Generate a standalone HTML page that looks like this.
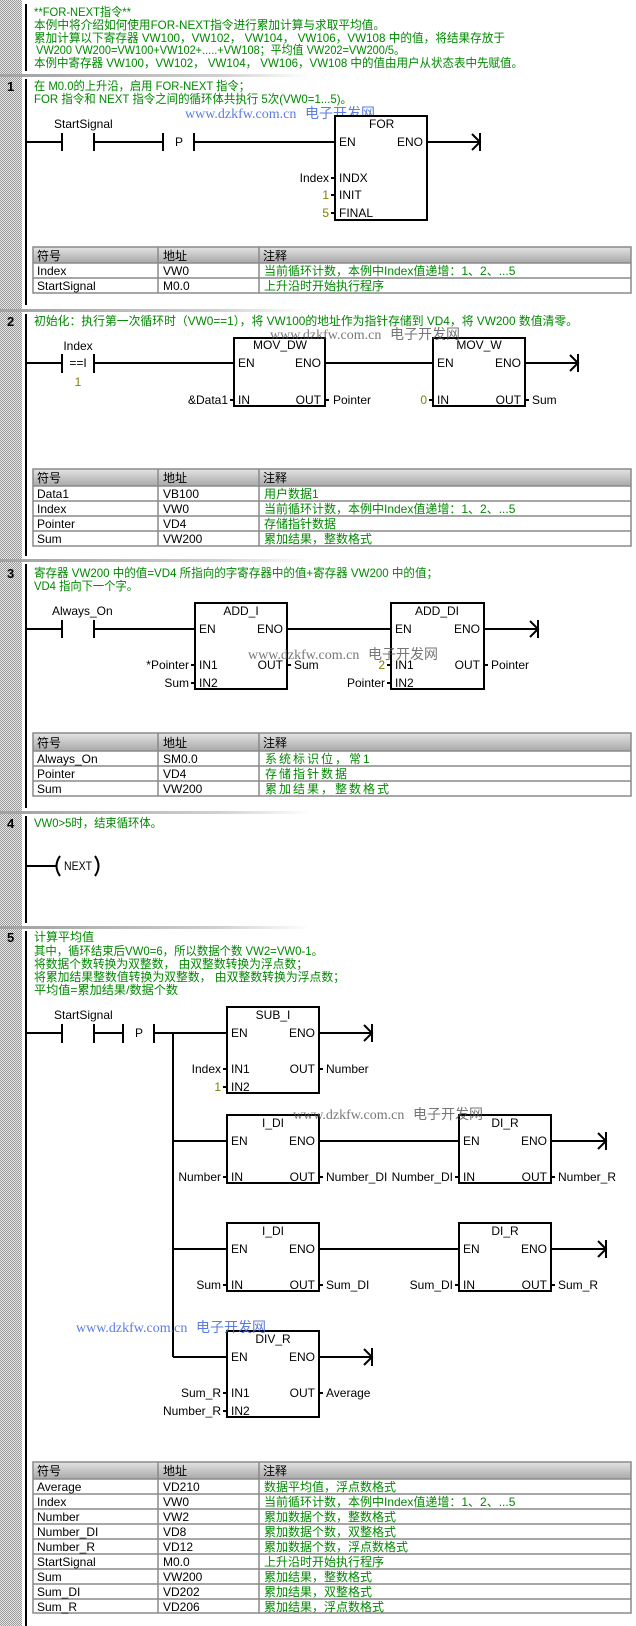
<!DOCTYPE html>
<html><head><meta charset="utf-8"><style>
html,body{margin:0;padding:0;background:#fff}
svg{display:block}
text{font-family:"Liberation Sans","Noto Sans CJK SC",sans-serif;font-size:12px;fill:#000}
.g{fill:#008800}
.o{fill:#808000}
.n{font-weight:bold;font-size:13px}
.wb{fill:#4a6ee0;font-family:"Liberation Serif","Noto Sans CJK SC",serif;font-size:14px;opacity:.9}
.wg{fill:#555;font-family:"Liberation Serif","Noto Sans CJK SC",serif;font-size:14px;opacity:.8}
.l{stroke:#000;stroke-width:2;fill:none}
.b{stroke:#000;stroke-width:2;fill:#fff}
.tb{stroke:#8a8a8a;stroke-width:1.5;fill:none}
</style></head><body>
<svg width="636" height="1626" viewBox="0 0 636 1626" xmlns="http://www.w3.org/2000/svg">
<defs>
<pattern id="chk" width="2" height="2" patternUnits="userSpaceOnUse"><rect width="2" height="2" fill="#e6e6e6"/><rect width="1" height="1" fill="#9a9a9a"/><rect x="1" y="1" width="1" height="1" fill="#9a9a9a"/></pattern>
<linearGradient id="sep" x1="0" x2="1" y1="0" y2="0"><stop offset="0" stop-color="#a0a0a0"/><stop offset="0.7" stop-color="#d0d0d0"/><stop offset="1" stop-color="#fff"/></linearGradient>
<linearGradient id="hd" x1="0" x2="0" y1="0" y2="1"><stop offset="0" stop-color="#e4e4e4"/><stop offset="1" stop-color="#a8a8a8"/></linearGradient>
</defs>
<rect x="0" y="0" width="22" height="1626" fill="url(#chk)"/>
<!-- separators -->
<rect x="0" y="74" width="310" height="3" fill="url(#sep)"/>
<rect x="0" y="309" width="310" height="3" fill="url(#sep)"/>
<rect x="0" y="559" width="310" height="3" fill="url(#sep)"/>
<rect x="0" y="811" width="310" height="3" fill="url(#sep)"/>
<rect x="0" y="926" width="310" height="3" fill="url(#sep)"/>
<!-- left rails -->
<g stroke="#000" stroke-width="2">
<line x1="26" y1="4" x2="26" y2="71"/>
<line x1="26" y1="79" x2="26" y2="305"/>
<line x1="26" y1="314" x2="26" y2="556"/>
<line x1="26" y1="564" x2="26" y2="808"/>
<line x1="26" y1="816" x2="26" y2="923"/>
<line x1="26" y1="931" x2="26" y2="1626"/>
</g>
<!-- header -->
<text class="g" x="34" y="16" textLength="97" lengthAdjust="spacingAndGlyphs">**FOR-NEXT指令**</text>
<text class="g" x="34" y="29" textLength="351" lengthAdjust="spacingAndGlyphs">本例中将介绍如何使用FOR-NEXT指令进行累加计算与求取平均值。</text>
<text class="g" x="34" y="42" textLength="471" lengthAdjust="spacingAndGlyphs">累加计算以下寄存器 VW100，VW102， VW104， VW106，VW108 中的值，将结果存放于</text>
<text class="g" x="36" y="54" textLength="369" lengthAdjust="spacingAndGlyphs">VW200 VW200=VW100+VW102+.....+VW108；平均值 VW202=VW200/5。</text>
<text class="g" x="34" y="67" textLength="489" lengthAdjust="spacingAndGlyphs">本例中寄存器 VW100，VW102， VW104， VW106，VW108 中的值由用户从状态表中先赋值。</text>

<!-- RUNG 1 -->
<text class="n" x="7" y="91">1</text>
<text class="g" x="34" y="90" textLength="216" lengthAdjust="spacingAndGlyphs">在 M0.0的上升沿，启用 FOR-NEXT 指令；</text>
<text class="g" x="34" y="103" textLength="318" lengthAdjust="spacingAndGlyphs">FOR 指令和 NEXT 指令之间的循环体共执行 5次(VW0=1...5)。</text>
<text class="wb" x="185" y="118">www.dzkfw.com.cn</text><text class="wb" x="305" y="118">电子开发网</text>
<text x="54" y="128">StartSignal</text>
<path class="l" d="M26 142H62M62 133V151M94 133V151M94 142H163M163 133V151M194 133V151M194 142H335"/>
<text x="175" y="146">P</text>
<rect class="b" x="335" y="116" width="92" height="104"/>
<text x="369" y="128">FOR</text>
<text x="339" y="146">EN</text><text x="423" y="146" text-anchor="end">ENO</text>
<path class="l" d="M427 142H480M472 134L480 142L472 150M480 133V151"/>
<path class="l" d="M331 178H335M331 195H335M331 213H335"/>
<text x="339" y="182">INDX</text><text x="339" y="199">INIT</text><text x="339" y="217">FINAL</text>
<text x="329" y="182" text-anchor="end">Index</text>
<text class="o" x="329" y="199" text-anchor="end">1</text>
<text class="o" x="329" y="217" text-anchor="end">5</text>

<!-- table 1 -->
<rect x="33" y="247" width="598" height="16" fill="url(#hd)"/>
<rect class="tb" x="33" y="247" width="598" height="46"/>
<path class="tb" d="M33 263H631M33 278H631M158 247V293M259 247V293"/>
<text x="37" y="260">符号</text><text x="163" y="260">地址</text><text x="263" y="260">注释</text>
<text x="37" y="275">Index</text><text x="163" y="275">VW0</text><text class="g" x="264" y="275">当前循环计数，本例中Index值递增：1、2、...5</text>
<text x="37" y="290">StartSignal</text><text x="163" y="290">M0.0</text><text class="g" x="264" y="290">上升沿时开始执行程序</text>

<!-- RUNG 2 -->
<text class="n" x="7" y="326">2</text>
<text class="g" x="34" y="325" textLength="544" lengthAdjust="spacingAndGlyphs">初始化：执行第一次循环时（VW0==1），将 VW100的地址作为指针存储到 VD4，将 VW200 数值清零。</text>
<text x="78" y="350" text-anchor="middle">Index</text>
<path class="l" d="M26 363H62M62 354V373M94 354V373M94 363H234"/>
<text x="78" y="367" text-anchor="middle">==I</text>
<text class="o" x="78" y="386" text-anchor="middle">1</text>
<rect class="b" x="234" y="338" width="91" height="68"/>
<text x="280" y="349" text-anchor="middle">MOV_DW</text>
<text x="238" y="367">EN</text><text x="321" y="367" text-anchor="end">ENO</text>
<text x="238" y="404">IN</text><text x="321" y="404" text-anchor="end">OUT</text>
<path class="l" d="M230 400H234M325 400H329M325 363H433"/>
<text x="228" y="404" text-anchor="end">&amp;Data1</text>
<text x="333" y="404">Pointer</text>
<rect class="b" x="433" y="338" width="92" height="68"/>
<text x="479" y="349" text-anchor="middle">MOV_W</text>
<text x="437" y="367">EN</text><text x="521" y="367" text-anchor="end">ENO</text>
<text x="437" y="404">IN</text><text x="521" y="404" text-anchor="end">OUT</text>
<path class="l" d="M429 400H433M525 400H529M525 363H578M570 355L578 363L570 371M578 354V372"/>
<text class="o" x="427" y="404" text-anchor="end">0</text>
<text x="532" y="404">Sum</text>
<text class="wg" x="270" y="339">www.dzkfw.com.cn</text><text class="wg" x="390" y="339">电子开发网</text>

<rect x="33" y="469" width="598" height="17" fill="url(#hd)"/>
<rect class="tb" x="33" y="469" width="598" height="77"/>
<path class="tb" d="M33 486H631M33 501H631M33 516H631M33 531H631M158 469V546M259 469V546"/>
<text x="37" y="482">符号</text><text x="163" y="482">地址</text><text x="263" y="482">注释</text>
<text x="37" y="498">Data1</text><text x="163" y="498">VB100</text><text class="g" x="264" y="498">用户数据1</text>
<text x="37" y="513">Index</text><text x="163" y="513">VW0</text><text class="g" x="264" y="513">当前循环计数，本例中Index值递增：1、2、...5</text>
<text x="37" y="528">Pointer</text><text x="163" y="528">VD4</text><text class="g" x="264" y="528">存储指针数据</text>
<text x="37" y="543">Sum</text><text x="163" y="543">VW200</text><text class="g" x="264" y="543">累加结果，整数格式</text>

<!-- RUNG 3 -->
<text class="n" x="7" y="578">3</text>
<text class="g" x="34" y="577" textLength="404" lengthAdjust="spacingAndGlyphs">寄存器 VW200 中的值=VD4 所指向的字寄存器中的值+寄存器 VW200 中的值；</text>
<text class="g" x="34" y="590" textLength="104" lengthAdjust="spacingAndGlyphs">VD4 指向下一个字。</text>
<text x="52" y="615">Always_On</text>
<path class="l" d="M26 629H62M62 620V638M94 620V638M94 629H195"/>
<rect class="b" x="195" y="603" width="92" height="86"/>
<text x="241" y="615" text-anchor="middle">ADD_I</text>
<text x="199" y="633">EN</text><text x="283" y="633" text-anchor="end">ENO</text>
<text x="199" y="669">IN1</text><text x="283" y="669" text-anchor="end">OUT</text>
<text x="199" y="687">IN2</text>
<path class="l" d="M191 665H195M191 683H195M287 665H291M287 629H391"/>
<text x="189" y="669" text-anchor="end">*Pointer</text>
<text x="189" y="687" text-anchor="end">Sum</text>
<text x="294" y="669">Sum</text>
<rect class="b" x="391" y="603" width="93" height="86"/>
<text x="437" y="615" text-anchor="middle">ADD_DI</text>
<text x="395" y="633">EN</text><text x="480" y="633" text-anchor="end">ENO</text>
<text x="395" y="669">IN1</text><text x="480" y="669" text-anchor="end">OUT</text>
<text x="395" y="687">IN2</text>
<path class="l" d="M387 665H391M387 683H391M484 665H488M484 629H538M530 621L538 629L530 637M538 620V638"/>
<text class="o" x="385" y="669" text-anchor="end">2</text>
<text x="385" y="687" text-anchor="end">Pointer</text>
<text x="491" y="669">Pointer</text>
<text class="wg" x="248" y="659">www.dzkfw.com.cn</text><text class="wg" x="368" y="659">电子开发网</text>

<rect x="33" y="733" width="598" height="18" fill="url(#hd)"/>
<rect class="tb" x="33" y="733" width="598" height="63"/>
<path class="tb" d="M33 751H631M33 766H631M33 781H631M158 733V796M259 733V796"/>
<text x="37" y="747">符号</text><text x="163" y="747">地址</text><text x="263" y="747">注释</text>
<text x="37" y="763">Always_On</text><text x="163" y="763">SM0.0</text><text class="g" x="265" y="763" letter-spacing="2">系统标识位，常1</text>
<text x="37" y="778">Pointer</text><text x="163" y="778">VD4</text><text class="g" x="265" y="778" letter-spacing="2">存储指针数据</text>
<text x="37" y="793">Sum</text><text x="163" y="793">VW200</text><text class="g" x="265" y="793" letter-spacing="2">累加结果，整数格式</text>

<!-- RUNG 4 -->
<text class="n" x="7" y="828">4</text>
<text class="g" x="34" y="827" textLength="128" lengthAdjust="spacingAndGlyphs">VW0&gt;5时，结束循环体。</text>
<path class="l" d="M26 866H56M60 856Q53 866 60 876M95 856Q102 866 95 876"/>
<text x="64" y="870" textLength="28" lengthAdjust="spacingAndGlyphs">NEXT</text>

<!-- RUNG 5 -->
<text class="n" x="7" y="942">5</text>
<text class="g" x="34" y="941" textLength="60" lengthAdjust="spacingAndGlyphs">计算平均值</text>
<text class="g" x="34" y="955" textLength="289" lengthAdjust="spacingAndGlyphs">其中，循环结束后VW0=6，所以数据个数 VW2=VW0-1。</text>
<text class="g" x="34" y="968" textLength="274" lengthAdjust="spacingAndGlyphs">将数据个数转换为双整数， 由双整数转换为浮点数；</text>
<text class="g" x="34" y="981" textLength="311" lengthAdjust="spacingAndGlyphs">将累加结果整数值转换为双整数， 由双整数转换为浮点数；</text>
<text class="g" x="34" y="994" textLength="144" lengthAdjust="spacingAndGlyphs">平均值=累加结果/数据个数</text>
<text x="54" y="1019">StartSignal</text>
<path class="l" d="M26 1033H62M62 1024V1043M94 1024V1043M94 1033H123M123 1024V1043M154 1024V1043M154 1033H227M173 1033V1357M173 1141H227M173 1249H227M173 1357H227"/>
<text x="135" y="1037">P</text>
<!-- SUB_I -->
<rect class="b" x="227" y="1007" width="92" height="86"/>
<text x="273" y="1019" text-anchor="middle">SUB_I</text>
<text x="231" y="1037">EN</text><text x="315" y="1037" text-anchor="end">ENO</text>
<text x="231" y="1073">IN1</text><text x="315" y="1073" text-anchor="end">OUT</text>
<text x="231" y="1091">IN2</text>
<path class="l" d="M223 1069H227M223 1087H227M319 1069H323M319 1033H372M364 1025L372 1033L364 1041M372 1024V1042"/>
<text x="221" y="1073" text-anchor="end">Index</text>
<text class="o" x="221" y="1091" text-anchor="end">1</text>
<text x="326" y="1073">Number</text>
<!-- row2 -->
<rect class="b" x="227" y="1115" width="92" height="68"/>
<text x="273" y="1127" text-anchor="middle">I_DI</text>
<text x="231" y="1145">EN</text><text x="315" y="1145" text-anchor="end">ENO</text>
<text x="231" y="1181">IN</text><text x="315" y="1181" text-anchor="end">OUT</text>
<path class="l" d="M223 1177H227M319 1177H323M319 1141H459"/>
<text x="221" y="1181" text-anchor="end">Number</text>
<text x="326" y="1181">Number_DI</text>
<rect class="b" x="459" y="1115" width="92" height="68"/>
<text x="505" y="1127" text-anchor="middle">DI_R</text>
<text x="463" y="1145">EN</text><text x="547" y="1145" text-anchor="end">ENO</text>
<text x="463" y="1181">IN</text><text x="547" y="1181" text-anchor="end">OUT</text>
<path class="l" d="M455 1177H459M551 1177H555M551 1141H606M598 1133L606 1141L598 1149M606 1132V1150"/>
<text x="453" y="1181" text-anchor="end">Number_DI</text>
<text x="558" y="1181">Number_R</text>
<text class="wg" x="293" y="1119">www.dzkfw.com.cn</text><text class="wg" x="413" y="1119">电子开发网</text>
<!-- row3 -->
<rect class="b" x="227" y="1223" width="92" height="68"/>
<text x="273" y="1235" text-anchor="middle">I_DI</text>
<text x="231" y="1253">EN</text><text x="315" y="1253" text-anchor="end">ENO</text>
<text x="231" y="1289">IN</text><text x="315" y="1289" text-anchor="end">OUT</text>
<path class="l" d="M223 1285H227M319 1285H323M319 1249H459"/>
<text x="221" y="1289" text-anchor="end">Sum</text>
<text x="326" y="1289">Sum_DI</text>
<rect class="b" x="459" y="1223" width="92" height="68"/>
<text x="505" y="1235" text-anchor="middle">DI_R</text>
<text x="463" y="1253">EN</text><text x="547" y="1253" text-anchor="end">ENO</text>
<text x="463" y="1289">IN</text><text x="547" y="1289" text-anchor="end">OUT</text>
<path class="l" d="M455 1285H459M551 1285H555M551 1249H606M598 1241L606 1249L598 1257M606 1240V1258"/>
<text x="453" y="1289" text-anchor="end">Sum_DI</text>
<text x="558" y="1289">Sum_R</text>
<!-- DIV_R -->
<rect class="b" x="227" y="1331" width="92" height="86"/>
<text x="273" y="1343" text-anchor="middle">DIV_R</text>
<text x="231" y="1361">EN</text><text x="315" y="1361" text-anchor="end">ENO</text>
<text x="231" y="1397">IN1</text><text x="315" y="1397" text-anchor="end">OUT</text>
<text x="231" y="1415">IN2</text>
<path class="l" d="M223 1393H227M223 1411H227M319 1393H323M319 1357H372M364 1349L372 1357L364 1365M372 1348V1366"/>
<text x="221" y="1397" text-anchor="end">Sum_R</text>
<text x="221" y="1415" text-anchor="end">Number_R</text>
<text x="326" y="1397">Average</text>
<text class="wb" x="76" y="1332">www.dzkfw.com.cn</text><text class="wb" x="196" y="1332">电子开发网</text>

<rect x="33" y="1462" width="598" height="17" fill="url(#hd)"/>
<rect class="tb" x="33" y="1462" width="598" height="151"/>
<path class="tb" d="M33 1479H631M33 1494H631M33 1509H631M33 1524H631M33 1539H631M33 1554H631M33 1569H631M33 1584H631M33 1599H631M158 1462V1613M259 1462V1613"/>
<text x="37" y="1475">符号</text><text x="163" y="1475">地址</text><text x="263" y="1475">注释</text>
<text x="37" y="1491">Average</text><text x="163" y="1491">VD210</text><text class="g" x="264" y="1491">数据平均值，浮点数格式</text>
<text x="37" y="1506">Index</text><text x="163" y="1506">VW0</text><text class="g" x="264" y="1506">当前循环计数，本例中Index值递增：1、2、...5</text>
<text x="37" y="1521">Number</text><text x="163" y="1521">VW2</text><text class="g" x="264" y="1521">累加数据个数，整数格式</text>
<text x="37" y="1536">Number_DI</text><text x="163" y="1536">VD8</text><text class="g" x="264" y="1536">累加数据个数，双整格式</text>
<text x="37" y="1551">Number_R</text><text x="163" y="1551">VD12</text><text class="g" x="264" y="1551">累加数据个数，浮点数格式</text>
<text x="37" y="1566">StartSignal</text><text x="163" y="1566">M0.0</text><text class="g" x="264" y="1566">上升沿时开始执行程序</text>
<text x="37" y="1581">Sum</text><text x="163" y="1581">VW200</text><text class="g" x="264" y="1581">累加结果，整数格式</text>
<text x="37" y="1596">Sum_DI</text><text x="163" y="1596">VD202</text><text class="g" x="264" y="1596">累加结果，双整格式</text>
<text x="37" y="1611">Sum_R</text><text x="163" y="1611">VD206</text><text class="g" x="264" y="1611">累加结果，浮点数格式</text>
</svg>
</body></html>
